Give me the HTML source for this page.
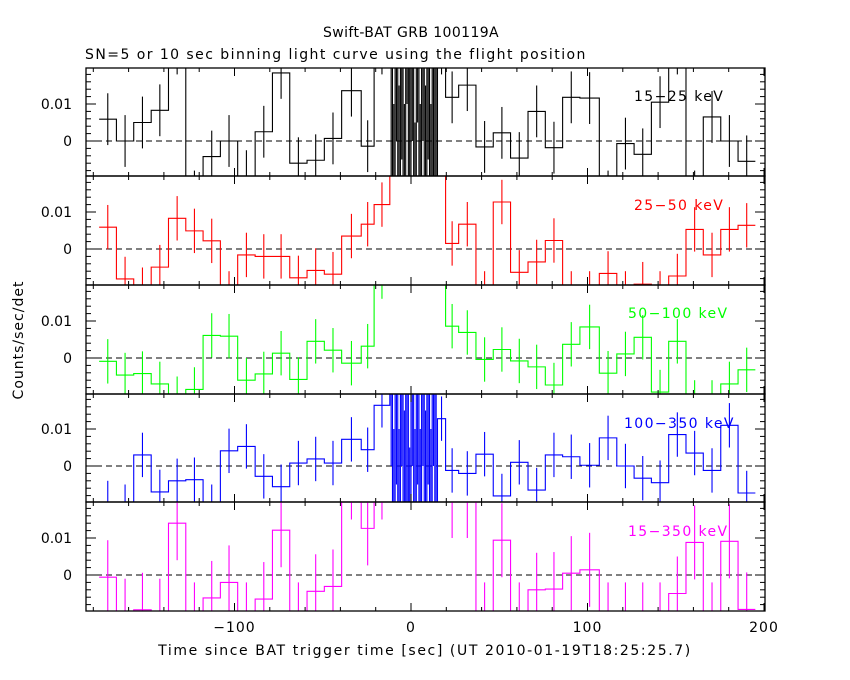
<!DOCTYPE html>
<html><head><meta charset="utf-8"><style>
html,body{margin:0;padding:0;background:#fff;}
svg{display:block;font-family:"DejaVu Sans","Liberation Sans",sans-serif;}
</style></head><body>
<svg id="chart" width="850" height="680" viewBox="0 0 850 680" xmlns="http://www.w3.org/2000/svg">
<rect width="850" height="680" fill="#fff"/>
<text x="411" y="37" font-size="14" letter-spacing="0.4" text-anchor="middle">Swift-BAT GRB 100119A</text>
<text x="85" y="59" font-size="14" letter-spacing="1.45">SN=5 or 10 sec binning light curve using the flight position</text>
<text x="0" y="0" font-size="14" letter-spacing="1" text-anchor="middle" transform="translate(23,340) rotate(-90)">Counts/sec/det</text>
<text x="425" y="655" font-size="14" letter-spacing="1.6" text-anchor="middle">Time since BAT trigger time [sec] (UT 2010-01-19T18:25:25.7)</text>
<g id="plots"></g>
</svg>
<script>
const edges = [-176.7,-166.9,-157.1,-147.2,-137.4,-127.6,-117.8,-108,-98.2,-88.3,-78.5,-68.7,-58.9,-49.1,-39.3,-28.2,-20.9,-12,-10.5,-9,-7.5,-6,-4.5,-3,-1.5,0,1.5,3,4.5,6,7.5,9,10.5,12,13.5,15,19.6,27,36.8,46.6,56.4,66.3,76.1,85.9,95.7,106.7,116.6,126.4,136.2,146,155.8,165.6,175.5,185.3,195.1];
const rate15_25 = [5.9,0,5,8.3,25,-15,-4.2,0,-9.5,2.5,18.4,-6,-5.2,0.7,13.6,-1.4, 25, 20,-20,30,-15,25,-20,40,-10,30,-25,35,-20,30,-15,25,-20,20,-10, 25, 11.8,15.1,-1.6,2.2,-4.6,8,-1.8,11.8,11.6,-15,-0.7,-3.6,10.5,25,-15,6.5,0,-5.5];
const rate25_50 = [5.9,-8.1,-11,-4.9,8.3,4.9,2.2,-12,-1.6,-2,-2,-7.8,-5.8,-6.8,3.5,6.7, 12, 35,35,35,35,35,35,35,35,35,35,35,35,35,35,35,35,35,35, 35, 1.5,6.7,-12,12.7,-6.3,-3.5,2.3,-12,-12,-6.6,-12,-9.5,-12,-7.3,5.3,-1.6,5.3,6.4];
const rate50_100 = [-0.9,-4.6,-4.2,-7,-11,-8.5,6.1,5.9,-6,-4.3,1.3,-5.8,4.5,2.1,-1.4,3.2, 22, 35,35,35,35,35,35,35,35,35,35,35,35,35,35,35,35,35,35, 30, 8.6,6.9,-0.4,2.3,-0.8,-2.4,-7.3,3.7,8.4,-4.1,1.1,5.6,-9.2,4.5,-12,-12,-7,-3.2];
const rate100_350 = [-10,-11,3,-7,-4,-3.7,-11,4.1,5.3,-2.8,-5.6,0.8,1.9,0.8,7.2,4.4, 16.4, 30,-20,25,-20,30,-15,20,-25,30,-20,25,-20,30,-15,25,-20,30,-10, 12.8, -1.2,-2,3.2,-8.1,1,-6.5,3,2.5,0.2,7.6,0,-3.3,-4.5,8.5,3.5,-1.2,11,-7.3];
const rate15_350 = [-0.6,-11,-9.4,-11,14,-12,-6.2,-2,-12,-6.5,12.1,-12,-4.4,-3.1,25,12.6, 25, 40,40,40,40,40,40,40,40,40,40,40,40,40,40,40,40,40,40, 40, 20,20,-12,9.4,-12,-4,-3.8,0.5,1.4,-12,-12,-12,-12,-5,8.8,-12,9.1,-9.3];
const errors = [7,6,6,6,10];
const burstErrors = [30,5,5,30,5];
const bandLabels = ["15\u221225 keV","25\u221250 keV","50\u2212100 keV","100\u2212350 keV","15\u2212350 keV"];
const xTickLabels = ["\u2212100","0","100","200"];
const xTickValues = [-100,0,100,200];

const NS="http://www.w3.org/2000/svg";
const X0=86, X1=765;
function xs(t){return 411+1.765*t;}
const panels=[
 {top:68,bot:176,zero:141,color:"#000",data:rate15_25,lab:[634,101]},
 {top:176,bot:285,zero:249,color:"#ff0000",data:rate25_50,lab:[634,210]},
 {top:285,bot:394,zero:358,color:"#00ff00",data:rate50_100,lab:[628,318]},
 {top:394,bot:502,zero:466,color:"#0000ff",data:rate100_350,lab:[624,428]},
 {top:502,bot:611,zero:575,color:"#ff00ff",data:rate15_350,lab:[628,536]}
];
const PER=3.7;
const root=document.getElementById('plots');
function mk(tag,attrs,parent){const e=document.createElementNS(NS,tag);for(const k in attrs)e.setAttribute(k,attrs[k]);(parent||root).appendChild(e);return e;}
const defs=mk('defs',{});
panels.forEach((p,i)=>{
  const ys=v=>p.zero-v*PER;
  const g=mk('g',{});
  
  
  const cp=mk('clipPath',{id:'cp'+i},defs);
  mk('rect',{x:X0,y:p.top,width:X1-X0,height:p.bot-p.top},cp);
  const dg=mk('g',{'clip-path':'url(#cp'+i+')'},g);
  const z=mk('line',{x1:X0,x2:X1,y1:p.zero,y2:p.zero,stroke:'#000','stroke-dasharray':'6,4','stroke-width':1.1},dg);
  
  
  const d=p.data;
  let path='';
  for(let k=0;k<d.length;k++){
    const xa=xs(edges[k]),xb=xs(edges[k+1]),y=ys(d[k]);
    if(k===0) path+='M'+xa+' '+y; else path+='L'+xa+' '+y;
    path+='L'+xb+' '+y;
    const burst=(k>=17&&k<=34);
    const e=burst?burstErrors[i]:errors[i];
    const xc=(xa+xb)/2;
    const eb=mk('line',{x1:xc,x2:xc,y1:ys(d[k]+e),y2:ys(d[k]-e),stroke:p.color,'stroke-width':1.1},dg);
    
    
  }
  const st=mk('path',{d:path,fill:'none',stroke:p.color,'stroke-width':1.1},dg);
  
  
  const fr=mk('rect',{x:X0,y:p.top,width:X1-X0,height:p.bot-p.top,fill:'none',stroke:'#000','stroke-width':1.3},g);
  
  
  for(let t=-180;t<=200;t+=20){
    const x=xs(t); if(x<X0||x>X1) continue;
    const L=(t%100===0)?8:4;
    mk('line',{x1:x,x2:x,y1:p.top,y2:p.top+L,stroke:'#000'},g);
    mk('line',{x1:x,x2:x,y1:p.bot,y2:p.bot-L,stroke:'#000'},g);
  }
  for(let v=-8;v<=18;v+=2){
    const y=ys(v); if(y<p.top||y>p.bot) continue;
    const L=(v%10===0)?10:5;
    mk('line',{x1:X0,x2:X0+L,y1:y,y2:y,stroke:'#000'},g);
    mk('line',{x1:X1,x2:X1-L,y1:y,y2:y,stroke:'#000'},g);
  }
  const t1=mk('text',{x:72,y:ys(10)+5,'font-size':14,'text-anchor':'end'},g);t1.textContent='0.01';
  
  
  const t0=mk('text',{x:72,y:ys(0)+5,'font-size':14,'text-anchor':'end'},g);t0.textContent='0';
  
  
  const lb=mk('text',{x:p.lab[0],y:p.lab[1],'font-size':14,'letter-spacing':1.4,fill:p.color},g);lb.textContent=bandLabels[i];
  
  
});
xTickValues.forEach((v,j)=>{
  const t=mk('text',{x:xs(v),y:632,'font-size':14,'letter-spacing':1,'text-anchor':'middle'});
  t.textContent=xTickLabels[j];
  
  
});
</script>
</body></html>
